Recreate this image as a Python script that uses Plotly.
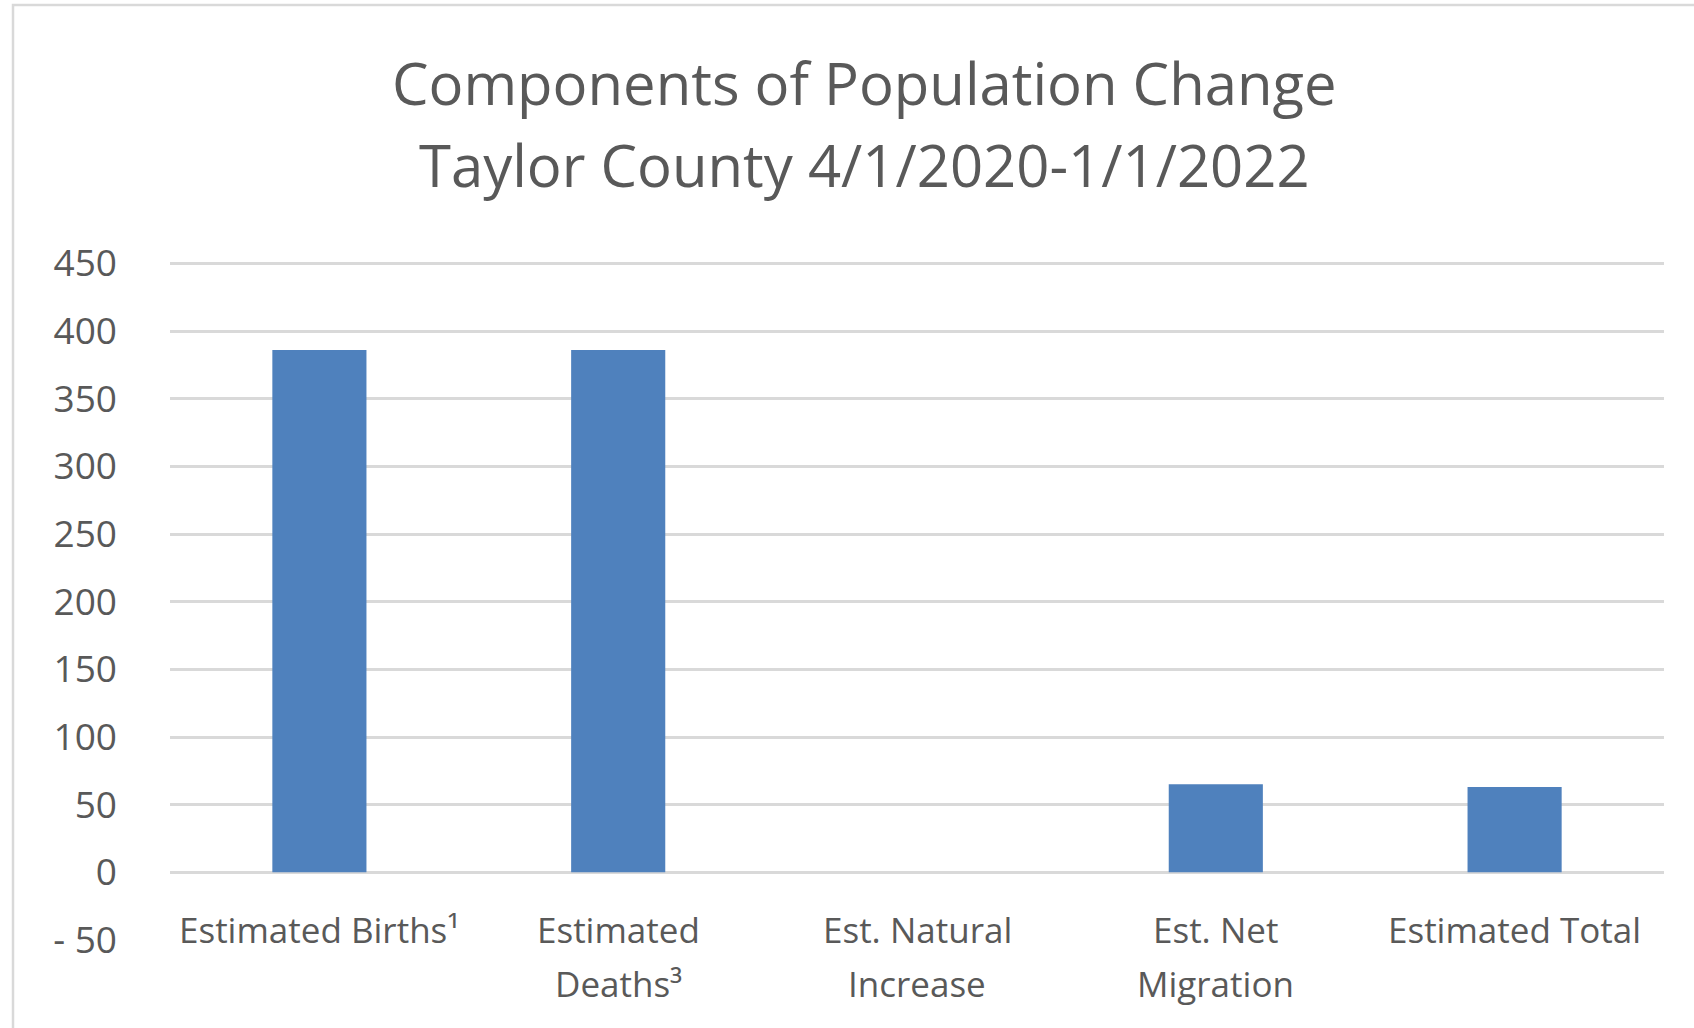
import plotly.graph_objects as go

# Components of population change, Taylor County, 4/1/2020 - 1/1/2022
title_lines = ["Components of Population Change", "Taylor County 4/1/2020-1/1/2022"]
categories = [
    "Estimated Births\u00b9",
    "Estimated<br>Deaths\u00b3",
    "Est. Natural<br>Increase",
    "Est. Net<br>Migration",
    "Estimated Total",
]
values = [386, 386, 0, 65, 63]
tick_values = [-50, 0, 50, 100, 150, 200, 250, 300, 350, 400, 450]
tick_labels = ["- 50", "0", "50", "100", "150", "200", "250", "300", "350", "400", "450"]

FONT = "Open Sans, Noto Sans, sans-serif"
TEXT = "#595959"
GRID = "#D9D9D9"

W, H = 1694, 1028
ML, MR, MT, MB = 170, 30, 262, 88
PW, PH = W - ML - MR, H - MT - MB

fig = go.Figure(
    go.Bar(
        x=categories,
        y=values,
        marker=dict(color="#4F81BD", line=dict(width=0)),
        hoverinfo="x+y",
    )
)

# pixel position -> paper fraction
px = lambda x: (x - ML) / PW
py = lambda y: (H - MB - y) / PH

annotations = []

# Two-line chart title centred over the chart area
for ln, yc in zip(title_lines, [82, 164]):
    annotations.append(
        dict(
            x=px(864), y=py(yc), xref="paper", yref="paper",
            text=ln, showarrow=False,
            xanchor="center", yanchor="middle",
            font=dict(family=FONT, size=58, color=TEXT),
        )
    )

# Category labels sit on the lowest gridline, one annotation per text line
line_gap = 54
for cat in categories:
    for i, ln in enumerate(cat.split("<br>")):
        annotations.append(
            dict(
                x=cat, y=-50, xref="x", yref="y",
                text=ln, showarrow=False,
                xanchor="center", yanchor="middle",
                yshift=11 - i * line_gap,
                font=dict(family=FONT, size=35, color=TEXT),
            )
        )

# Light chart-area border
shapes = [
    dict(
        type="rect", xref="paper", yref="paper",
        x0=px(13), x1=px(W + 20), y0=py(H + 20), y1=py(5),
        line=dict(color=GRID, width=2.5), fillcolor="rgba(0,0,0,0)",
        layer="below",
    )
]

fig.update_layout(
    width=W, height=H,
    margin=dict(l=ML, r=MR, t=MT, b=MB, pad=0),
    paper_bgcolor="white", plot_bgcolor="white",
    showlegend=False,
    bargap=0.685,
    xaxis=dict(
        showticklabels=False, showgrid=False, zeroline=False,
        showline=False, ticks="", fixedrange=True,
    ),
    yaxis=dict(
        range=[-50, 451],
        tickvals=tick_values, ticktext=tick_labels,
        showgrid=True, gridcolor=GRID, gridwidth=3,
        zeroline=False, showline=False, ticks="",
        ticklabelstandoff=52,
        tickfont=dict(family=FONT, size=37, color=TEXT),
        fixedrange=True,
    ),
    annotations=annotations,
    shapes=shapes,
)

fig.write_html("out.html")
